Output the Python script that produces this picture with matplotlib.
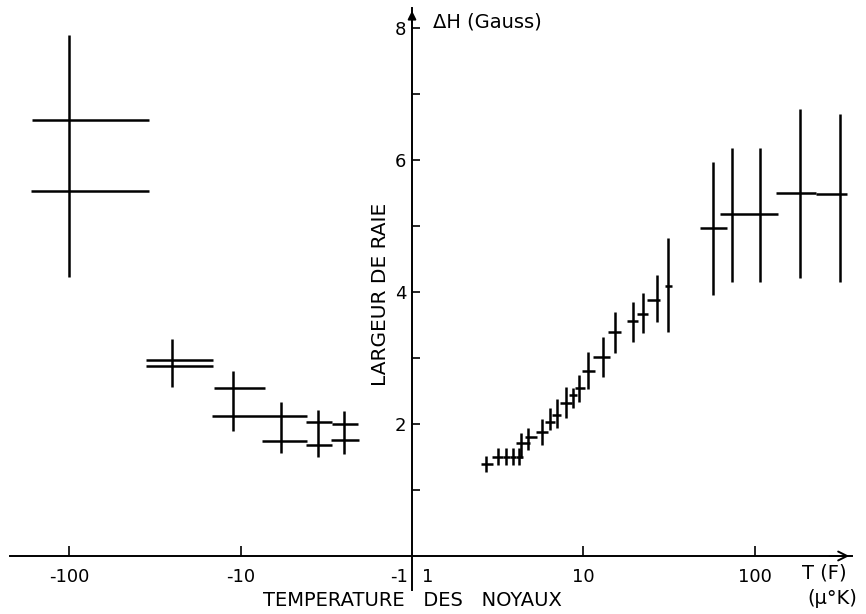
import numpy as np
import matplotlib
matplotlib.use('Agg')
import matplotlib.pyplot as plt
from matplotlib.ticker import FixedLocator, NullLocator

nan = np.nan

# negative temperatures (crosses: T, dH, horizontal extent, vertical extent)
neg_T = [-100, -100, -25, -25, -11, -11, -5.8, -3.55, -3.55, -2.5, -2.5]
neg_dH = [6.6, 5.53, 2.97, 2.88, 2.55, 2.12, 1.74, 2.03, 1.68, 2.00, 1.76]
neg_T_lo = [-165, -166, -35.4, -35.4, -14.2, -14.6, -7.5, -4.17, -4.17, -2.94, -2.96]
neg_T_hi = [-34, -34, -14.4, -14.4, -7.2, -4.1, -4.1, -2.94, -2.94, -2.07, -2.05]
neg_dH_lo = [4.23, nan, 2.56, nan, 1.89, nan, 1.56, 1.50, nan, 1.55, nan]
neg_dH_hi = [7.89, nan, 3.29, nan, 2.80, nan, 2.33, 2.21, nan, 2.20, nan]

# positive temperatures
pos_T = [2.70, 3.17, 3.53, 3.88, 4.21, 4.32, 4.74, 5.73, 6.38, 7.0, 7.91, 8.68, 9.42,
         10.6, 13.0, 15.3, 19.4, 22.2, 26.8, 31.1, 56.9, 73.4, 107, 183, 313]
pos_dH = [1.39, 1.50, 1.50, 1.50, 1.50, 1.71, 1.80, 1.88, 2.03, 2.14, 2.32, 2.44, 2.55,
          2.80, 3.02, 3.39, 3.56, 3.67, 3.88, 4.09, 4.97, 5.18, 5.18, 5.50, 5.48]
pos_T_lo = [2.53, 2.93, 3.39, 3.72, 4.04, 4.04, 4.56, 5.28, 5.97, 6.55, 7.29, 8.22, 8.92,
            9.8, 11.4, 13.9, 17.9, 20.5, 23.5, 29.9, 47.8, 62.5, nan, 133, 228]
pos_T_hi = [2.97, 3.39, 3.72, 4.04, 4.44, 4.88, 5.35, 6.21, 6.82, 7.39, 8.57, 9.16, 10.2,
            11.7, 14.3, 16.5, 20.8, 23.8, 27.9, 32.8, 68.7, 136, nan, 228, 344]
pos_dH_lo = [1.27, 1.38, 1.38, 1.38, 1.38, 1.48, 1.61, 1.68, 1.91, 1.94, 2.09, 2.24, 2.33,
             2.53, 2.71, 3.08, 3.24, 3.38, 3.55, 3.39, 3.95, 4.15, 4.15, 4.21, 4.15]
pos_dH_hi = [1.52, 1.64, 1.64, 1.64, 1.64, 1.86, 1.94, 2.08, 2.24, 2.38, 2.56, 2.55, 2.74,
             3.09, 3.32, 3.70, 3.85, 3.98, 4.26, 4.82, 5.97, 6.18, 6.18, 6.77, 6.70]

x_ticks = [-100, -10, 10, 100]
x_ticklabels = ['-100', '-10', '10', '100']
y_ticks = [2, 4, 6, 8]


# both -1 and 1 sit on the vertical axis: x -> sign(x)*log10|x|
def fwd(t):
    t = np.asarray(t, dtype=float)
    return np.sign(t) * np.log10(np.maximum(np.abs(t), 1.0))


def inv(u):
    u = np.asarray(u, dtype=float)
    return np.sign(u) * 10 ** np.abs(u)


plt.rcParams['font.family'] = ['DejaVu Sans']

W, H = 866, 614
fig = plt.figure(figsize=(W / 100, H / 100), dpi=100)
ax = fig.add_axes([10 / W, 24 / H, 842 / W, 582 / H])
ax.set_xscale('function', functions=(fwd, inv))
ax.set_xlim(-221, 368)
ax.set_ylim(-0.515, 8.30)

T = np.array(neg_T + pos_T)
dH = np.array(neg_dH + pos_dH)
T_lo = np.array(neg_T_lo + pos_T_lo)
T_hi = np.array(neg_T_hi + pos_T_hi)
dH_lo = np.array(neg_dH_lo + pos_dH_lo)
dH_hi = np.array(neg_dH_hi + pos_dH_hi)

mh = ~np.isnan(T_lo)
ax.hlines(dH[mh], T_lo[mh], T_hi[mh], color='k', lw=1.8)
mv = ~np.isnan(dH_lo)
ax.vlines(T[mv], dH_lo[mv], dH_hi[mv], color='k', lw=1.8)

for s in ['top', 'right']:
    ax.spines[s].set_visible(False)
ax.spines['left'].set_position(('data', 0))
ax.spines['bottom'].set_position(('data', 0))
ax.spines['left'].set_linewidth(1.4)
ax.spines['bottom'].set_linewidth(1.4)

ax.xaxis.set_major_locator(FixedLocator(x_ticks))
ax.set_xticklabels(x_ticklabels)
ax.xaxis.set_minor_locator(NullLocator())
ax.tick_params(axis='x', direction='in', length=7, width=1.2, pad=9, labelsize=13)

# -1 and 1 both fall on the vertical axis, one label each side
ax.annotate('-1', xy=(0, 0), xytext=(-3, -8.5), textcoords='offset points',
            ha='right', va='top', fontsize=13)
ax.annotate('1', xy=(0, 0), xytext=(7, -8.5), textcoords='offset points',
            ha='left', va='top', fontsize=13)

ax.set_yticks(y_ticks)
ax.yaxis.set_minor_locator(FixedLocator([1, 3, 5, 7]))
ax.tick_params(axis='y', which='both', direction='in', length=6, width=1.2, pad=4, labelsize=13)

# axis arrows
ax.annotate('', xy=(0, 1), xycoords=('data', 'axes fraction'), xytext=(0, 0.97),
            arrowprops=dict(arrowstyle='-|>', color='k', lw=1.4, mutation_scale=12))
ax.annotate('', xy=(1, 0), xycoords=('axes fraction', 'data'), xytext=(0.97, 0),
            arrowprops=dict(arrowstyle='->', color='k', lw=1.4, mutation_scale=16))

fig.text(433 / W, 1 - 22 / H, 'ΔH (Gauss)', fontsize=14, ha='left', va='center')
fig.text(381 / W, 1 - 294 / H, 'LARGEUR DE RAIE', fontsize=14.5, rotation=90,
         ha='center', va='center')
fig.text(263 / W, 1 - 600 / H, 'TEMPERATURE   DES   NOYAUX', fontsize=14, ha='left', va='center')
fig.text(802 / W, 1 - 573 / H, 'T (F)', fontsize=14, ha='left', va='center')
fig.text(807 / W, 1 - 599 / H, '(µ°K)', fontsize=14, ha='left', va='center')

fig.savefig('out.png', dpi=100)
